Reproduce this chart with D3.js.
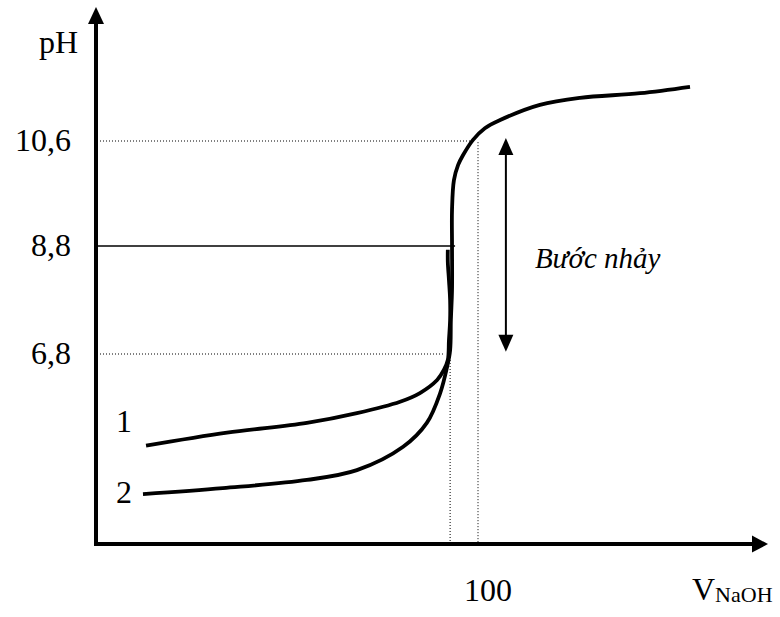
<!DOCTYPE html>
<html>
<head>
<meta charset="utf-8">
<script src="https://cdn.jsdelivr.net/npm/d3@7"></script>
<style>
  body { margin: 0; background: #fff; }
  text { font-family: "Liberation Serif", "Times New Roman", serif; fill: #000; }
</style>
</head>
<body>
<div id="chart"></div>
<script>
// titration curves (V NaOH, pH)
var curve1_v = [13.1, 34.3, 55.2, 68.3, 79.6, 84.8, 89.3, 91.1, 92.1, 92.4, 92.7, 92.7, 92.4, 92.1, 92.1];
var curve1_ph = [5.11, 5.35, 5.53, 5.71, 5.92, 6.08, 6.32, 6.51, 6.69, 7.06, 7.43, 7.80, 8.17, 8.50, 8.73];
var curve2_v = [12.3, 33.2, 55.2, 68.3, 80.4, 86.6, 90.1, 91.9, 92.7, 92.9, 93.2, 93.2, 93.2, 93.7, 94.8, 96.1, 98.7, 101.8, 105.8, 116.2, 126.7, 142.4, 155.5];
var curve2_ph = [4.22, 4.33, 4.48, 4.66, 5.09, 5.53, 6.08, 6.56, 6.87, 7.43, 7.99, 8.8, 9.42, 9.93, 10.19, 10.36, 10.62, 10.82, 10.96, 11.22, 11.34, 11.42, 11.53];
var curve_names = ['1', '2'];

var ph_levels = [10.6, 8.8, 6.8];
var ph_labels = ['10,6', '8,8', '6,8'];
var v_ticks = [100];
var v_tick_labels = ['100'];
var jump_text = 'Bước nhảy';

var chart_width = 780;
var chart_height = 617;

var svg = d3.select('#chart')
    .append('svg')
    .attr('width', chart_width)
    .attr('height', chart_height);

var x_scale = d3.scaleLinear()
    .domain([0, 100])
    .range([96, 478]);

// schematic axis: not evenly spaced
var y_scale = d3.scaleLinear()
    .domain([3.3, 6.8, 8.8, 10.6, 12.9])
    .range([544, 354, 246, 141, 7]);

var x0 = x_scale(0), y0 = y_scale(3.3);
var x_end = 768, y_end = y_scale(12.9);

// reference lines
function hline(ph, v_to, dotted) {
    svg.append('line')
        .attr('x1', x0 + 1).attr('x2', x_scale(v_to))
        .attr('y1', y_scale(ph)).attr('y2', y_scale(ph))
        .attr('stroke', '#000')
        .attr('stroke-width', dotted ? 1 : 1.6)
        .attr('stroke-dasharray', dotted ? '1,2' : null);
}
function vline(v, ph_top) {
    svg.append('line')
        .attr('x1', x_scale(v)).attr('x2', x_scale(v))
        .attr('y1', y_scale(ph_top)).attr('y2', y0)
        .attr('stroke', '#000')
        .attr('stroke-width', 1)
        .attr('stroke-dasharray', '1,2');
}
hline(ph_levels[0], 98.7, true);
hline(ph_levels[1], 94.0, false);
hline(ph_levels[2], 91.3, true);
vline(v_ticks[0], 10.58);
vline(92.7, 6.8);

// curves
var line = d3.line()
    .x(function (d) { return x_scale(d[0]); })
    .y(function (d) { return y_scale(d[1]); })
    .curve(d3.curveCatmullRom.alpha(0.5));

var curves = [d3.zip(curve1_v, curve1_ph), d3.zip(curve2_v, curve2_ph)];

svg.selectAll('path.curve')
    .data(curves)
    .enter()
    .append('path')
    .attr('class', 'curve')
    .attr('d', line)
    .attr('fill', 'none')
    .attr('stroke', '#000')
    .attr('stroke-width', 3.8)
    .attr('stroke-linecap', 'butt');

// axes with arrow heads
svg.append('line')
    .attr('x1', x0).attr('x2', x0)
    .attr('y1', y0 + 2).attr('y2', y_end + 14)
    .attr('stroke', '#000').attr('stroke-width', 4);
svg.append('path')
    .attr('d', 'M' + x0 + ',' + y_end + 'L' + (x0 - 8) + ',' + (y_end + 17) + 'L' + (x0 + 8) + ',' + (y_end + 17) + 'Z')
    .attr('fill', '#000');

svg.append('line')
    .attr('x1', x0 - 2).attr('x2', x_end - 14)
    .attr('y1', y0).attr('y2', y0)
    .attr('stroke', '#000').attr('stroke-width', 4);
svg.append('path')
    .attr('d', 'M' + x_end + ',' + y0 + 'L' + (x_end - 16) + ',' + (y0 - 8.5) + 'L' + (x_end - 16) + ',' + (y0 + 8.5) + 'Z')
    .attr('fill', '#000');

// double arrow for the jump
var ax = x_scale(107.3);
var a_top = y_scale(10.65), a_bot = y_scale(6.84);
svg.append('line')
    .attr('x1', ax).attr('x2', ax)
    .attr('y1', a_top + 10).attr('y2', a_bot - 10)
    .attr('stroke', '#000').attr('stroke-width', 2);
svg.append('path')
    .attr('d', 'M' + ax + ',' + a_top + 'L' + (ax - 7.5) + ',' + (a_top + 17) + 'L' + (ax + 7.5) + ',' + (a_top + 17) + 'Z')
    .attr('fill', '#000');
svg.append('path')
    .attr('d', 'M' + ax + ',' + a_bot + 'L' + (ax - 7.5) + ',' + (a_bot - 17) + 'L' + (ax + 7.5) + ',' + (a_bot - 17) + 'Z')
    .attr('fill', '#000');

svg.append('text')
    .attr('x', ax + 29)
    .attr('y', y_scale(8.4))
    .attr('font-size', 29)
    .attr('font-style', 'italic')
    .text(jump_text);

// labels
svg.append('text')
    .attr('x', x0 - 18).attr('y', 53)
    .attr('text-anchor', 'end')
    .attr('font-size', 32)
    .text('pH');

svg.selectAll('text.ytick')
    .data(ph_levels)
    .enter()
    .append('text')
    .attr('class', 'ytick')
    .attr('x', x0 - 25)
    .attr('y', function (d) { return y_scale(d) + 10; })
    .attr('text-anchor', 'end')
    .attr('font-size', 32)
    .text(function (d, i) { return ph_labels[i]; });

svg.selectAll('text.xtick')
    .data(v_ticks)
    .enter()
    .append('text')
    .attr('class', 'xtick')
    .attr('x', function (d) { return x_scale(d) + 10; })
    .attr('y', 601)
    .attr('text-anchor', 'middle')
    .attr('font-size', 32)
    .text(function (d, i) { return v_tick_labels[i]; });

var vl = svg.append('text')
    .attr('x', 692).attr('y', 600)
    .attr('font-size', 32);
vl.append('tspan').text('V');
vl.append('tspan').attr('font-size', 22).attr('dy', 2).text('NaOH');

// curve numbers next to start points
var label_offsets = [[-22, -14], [-19, 9]];
svg.selectAll('text.cname')
    .data(curves)
    .enter()
    .append('text')
    .attr('class', 'cname')
    .attr('x', function (d, i) { return x_scale(d[0][0]) + label_offsets[i][0]; })
    .attr('y', function (d, i) { return y_scale(d[0][1]) + label_offsets[i][1]; })
    .attr('text-anchor', 'middle')
    .attr('font-size', 32)
    .text(function (d, i) { return curve_names[i]; });
</script>
</body>
</html>
